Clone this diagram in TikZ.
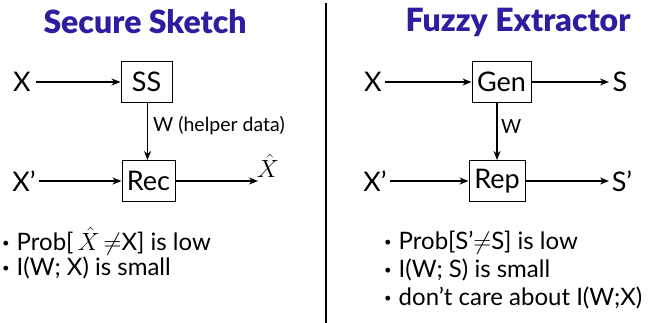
\documentclass[tikz,border=0pt]{standalone}
\usepackage{fontspec}
\setmainfont{Lato}
\newfontfamily\titlefont{Lato Black}
\usetikzlibrary{arrows.meta}
\definecolor{titleblue}{RGB}{45,30,160}
\newcommand{\bdot}{\raisebox{3pt}{\fontsize{13}{13}\selectfont\textbullet}\hspace{7pt}}
\begin{document}
\begin{tikzpicture}[x=1pt,y=-1pt,
  box/.style={draw,line width=1pt,minimum height=41pt,inner sep=0pt,font=\fontsize{27}{28}\selectfont},
  lbl/.style={font=\fontsize{27}{28}\selectfont,inner sep=0pt},
  arr/.style={-{Stealth[length=9pt,width=7pt]},line width=1.8pt},
  ttl/.style={font=\fontsize{32}{34}\selectfont\titlefont,text=titleblue},
  bul/.style={font=\fontsize{24}{26}\selectfont,anchor=west,inner sep=0pt},
  small/.style={font=\fontsize{19.5}{22}\selectfont,anchor=west,inner sep=0pt}]
\useasboundingbox (0,0) rectangle (653,323);
% titles and divider
\node[ttl] (t1) at (145,22) {Secure Sketch};
\node[ttl] (t2) at (518,22) {Fuzzy Extractor};
\coordinate (d1) at (326,3);
\coordinate (d2) at (326,323);
\draw[line width=1.5pt] (d1) -- (d2);
% secure sketch
\node[box,minimum width=51pt] (ss) at (146.5,82) {SS};
\node[box,minimum width=53pt] (rec) at (148.5,181) {Rec};
\node[lbl] (x1) at (22,82) {X};
\node[lbl] (x1p) at (24,181) {X’};
\node[lbl,font=\fontsize{29}{30}\selectfont] (xh) at (268,166) {$\hat{X}$};
\coordinate (xhe) at (258,181);
\draw[arr] (x1.east) ++(5,0) -- (ss.west);
\draw[arr] (x1p.east) ++(3,0) -- (rec.west);
\draw[arr] (ss.south -| 147.5,0) -- (rec.north -| 147.5,0);
\draw[arr] (rec.east) -- (xhe);
\node[small] (wl) at (153,126) {W (helper data)};
\node[bul] (b1) at (2,241) {\bdot Prob[\,$\hat{X}$\,$\neq$X] is low};
\node[bul] (b2) at (2,268) {\bdot I(W; X) is small};
% fuzzy extractor
\node[box,minimum width=59pt] (gen) at (501.5,82) {Gen};
\node[box,minimum width=56pt] (rep) at (497,181) {Rep};
\node[lbl] (x2) at (373,82) {X};
\node[lbl] (x2p) at (375,181) {X’};
\node[lbl] (s) at (620,82) {S};
\node[lbl] (sp) at (622,181) {S’};
\coordinate (se) at (609,82);
\coordinate (spe) at (609,181);
\draw[arr] (x2.east) ++(3,0) -- (gen.west);
\draw[arr] (x2p.east) ++(3,0) -- (rep.west);
\draw[arr] (gen.east) -- (se);
\draw[arr] (rep.east) -- (spe);
\draw[arr] (gen.south -| rep.north) -- (rep.north);
\node[small] (w2) at (501,127) {W};
\node[bul] (c1) at (384,243) {\bdot Prob[S’$\neq$S] is low};
\node[bul] (c2) at (384,270) {\bdot I(W; S) is small};
\node[bul] (c3) at (384,298) {\bdot don’t care about I(W;X)};
\end{tikzpicture}
\end{document}
